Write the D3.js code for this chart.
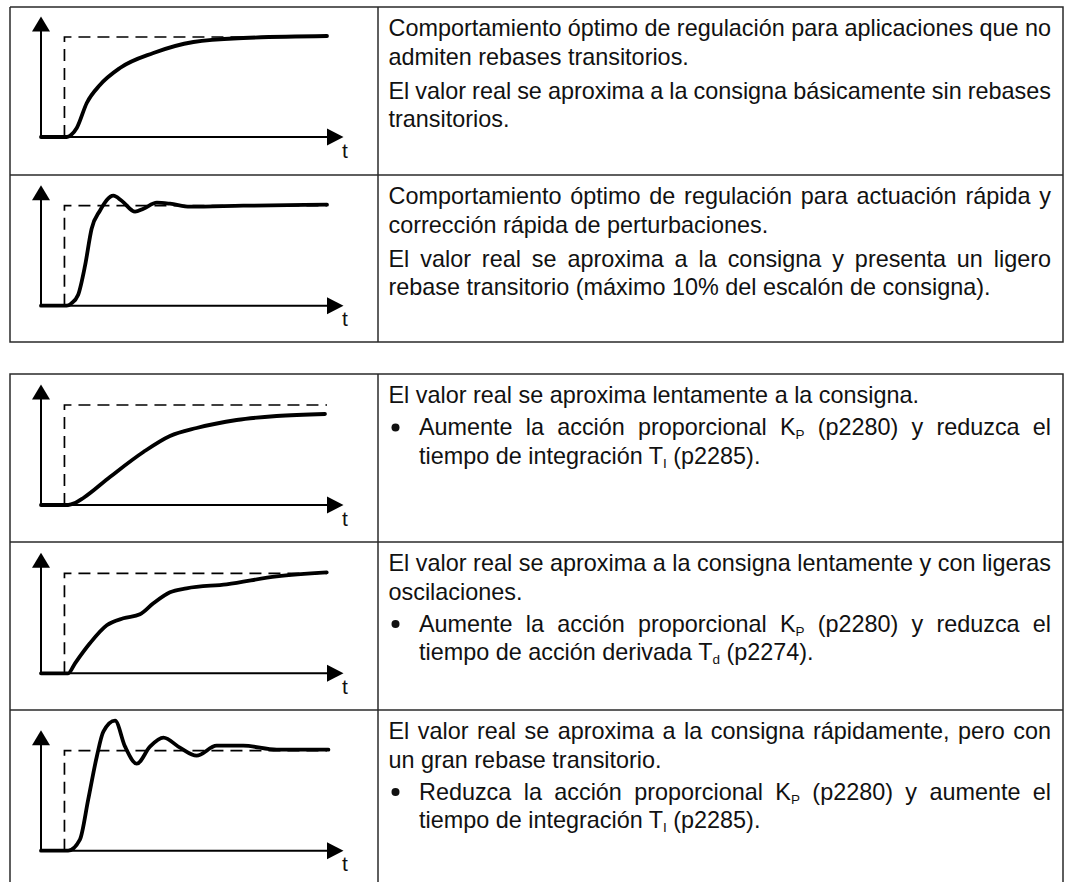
<!DOCTYPE html>
<html>
<head>
<meta charset="utf-8">
<script src="https://cdn.jsdelivr.net/npm/d3@7/dist/d3.min.js"></script>
<style>
  body { margin: 0; background: #fff; }
  svg text { font-family: "Liberation Sans", Arial, sans-serif; fill: #111; }
</style>
</head>
<body>
<svg id="chart" width="1071" height="882"></svg>
<script>
// step responses: t = time (0..10), v = actual value relative to the setpoint step (0 -> 1)
var stepTime = 0.82;

var respOptimal = [[0,0],[0.9,0],[1.05,0.02],[1.25,0.09],[1.6,0.34],[2.06,0.52],[2.76,0.69],
  [3.93,0.84],[5.33,0.95],[7.07,0.99],[10,1.01]];
var respFast = [[0,0],[0.9,0],[1.05,0.02],[1.3,0.11],[1.54,0.4],[1.77,0.77],[2.06,0.95],
  [2.53,1.1],[2.82,1.05],[3.29,0.94],[3.58,0.97],[4.05,1.03],[4.51,1.02],[5.21,0.99],
  [7.07,1.0],[10,1.01]];
var respSlow = [[0,0],[0.95,0],[1.19,0.02],[1.48,0.07],[2.41,0.28],[3.58,0.53],[4.51,0.69],
  [5.44,0.77],[6.84,0.85],[8.24,0.89],[9.93,0.91]];
var respWavy = [[0,0],[0.95,0],[1.19,0.1],[1.71,0.3],[2.3,0.48],[2.88,0.55],[3.46,0.59],
  [3.93,0.7],[4.51,0.81],[5.09,0.85],[6.49,0.89],[8.24,0.97],[9.99,1.01]];
var respOvershoot = [[0,0],[0.95,0],[1.36,0.11],[1.65,0.51],[1.95,0.94],[2.18,1.19],[2.59,1.3],
  [2.94,1.04],[3.35,0.87],[3.81,1.04],[4.28,1.13],[4.86,1.03],[5.44,0.95],[6.14,1.05],
  [7.07,1.05],[8.24,1.01],[10.05,1.01]];

// cell texts; "_{x}" marks a subscript
var textOptimal = [
  {bullet: false, lines: ["Comportamiento óptimo de regulación para aplicaciones que no", "admiten rebases transitorios."]},
  {bullet: false, lines: ["El valor real se aproxima a la consigna básicamente sin rebases", "transitorios."]}
];
var textFast = [
  {bullet: false, lines: ["Comportamiento óptimo de regulación para actuación rápida y", "corrección rápida de perturbaciones."]},
  {bullet: false, lines: ["El valor real se aproxima a la consigna y presenta un ligero", "rebase transitorio (máximo 10% del escalón de consigna)."]}
];
var textSlow = [
  {bullet: false, lines: ["El valor real se aproxima lentamente a la consigna."]},
  {bullet: true, lines: ["Aumente la acción proporcional K_{P} (p2280) y reduzca el", "tiempo de integración T_{I} (p2285)."]}
];
var textWavy = [
  {bullet: false, lines: ["El valor real se aproxima a la consigna lentamente y con ligeras", "oscilaciones."]},
  {bullet: true, lines: ["Aumente la acción proporcional K_{P} (p2280) y reduzca el", "tiempo de acción derivada T_{d} (p2274)."]}
];
var textOvershoot = [
  {bullet: false, lines: ["El valor real se aproxima a la consigna rápidamente, pero con", "un gran rebase transitorio."]},
  {bullet: true, lines: ["Reduzca la acción proporcional K_{P} (p2280) y aumente el", "tiempo de integración T_{I} (p2285)."]}
];

// layout
var left = 10, right = 1063, divX = 378;
var textRight = 1051;
var tables = [
  {top: 7, rows: [{h: 168, resp: respOptimal, text: textOptimal, base: 130},
                  {h: 167, resp: respFast, text: textFast, base: 130.7}]},
  {top: 374, rows: [{h: 168, resp: respSlow, text: textSlow, base: 131},
                    {h: 168, resp: respWavy, text: textWavy, base: 131.3},
                    {h: 200, resp: respOvershoot, text: textOvershoot, base: 140.7, open: true}]}
];

var svg = d3.select('#chart');
var borderColor = '#2a2a2a';

function addLine(g, str, x, y, justify) {
  var t = g.append('text').attr('x', x).attr('y', y).style('font-size', '23.4px');
  var parts = str.split(/(_\{[^}]*\})/);
  var shifted = false;
  parts.forEach(function(p) {
    if (!p) return;
    if (p.charAt(0) === '_') {
      t.append('tspan').attr('dy', 4).style('font-size', '13.5px').text(p.slice(2, -1));
      shifted = true;
    } else {
      t.append('tspan').attr('dy', shifted ? -4 : 0).text(p);
      shifted = false;
    }
  });
  // justified paragraph: spread the inner spaces up to the right margin
  if (justify) {
    var w = t.node().getComputedTextLength();
    var gaps = str.split(' ').length - 1;
    if (gaps > 0) {
      t.style('word-spacing', ((textRight - x - w) / gaps) + 'px');
    }
  }
}

function drawChart(g, resp, base) {
  var x = d3.scaleLinear().domain([0, 10]).range([41, 327]);
  var y = d3.scaleLinear().domain([0, 1]).range([base, base - 100]);
  var tipY = y(1) - 20.5, tipX = 343.5;

  // setpoint step (dashed)
  g.append('path')
    .attr('d', d3.line()([[x(stepTime), y(0)], [x(stepTime), y(1)], [x(10), y(1)]]))
    .attr('fill', 'none').attr('stroke', '#000').attr('stroke-width', 1.7)
    .attr('stroke-dasharray', '12,7');

  // axes
  g.append('line').attr('x1', x(0)).attr('x2', x(0)).attr('y1', y(0)).attr('y2', tipY + 12)
    .attr('stroke', '#000').attr('stroke-width', 2);
  g.append('line').attr('x1', x(0)).attr('x2', tipX - 12).attr('y1', y(0)).attr('y2', y(0))
    .attr('stroke', '#000').attr('stroke-width', 2);
  g.append('path')
    .attr('d', 'M' + x(0) + ',' + tipY + 'L' + (x(0) - 9) + ',' + (tipY + 15) + 'L' + (x(0) + 9) + ',' + (tipY + 15) + 'Z')
    .attr('fill', '#000');
  g.append('path')
    .attr('d', 'M' + tipX + ',' + y(0) + 'L' + (tipX - 16.5) + ',' + (y(0) - 8.5) + 'L' + (tipX - 16.5) + ',' + (y(0) + 8.5) + 'Z')
    .attr('fill', '#000');
  g.append('text').attr('x', tipX - 1.5).attr('y', y(0) + 20.5).style('font-size', '21px').text('t');

  // actual value
  g.append('path')
    .attr('d', d3.line().x(function(d) { return x(d[0]); }).y(function(d) { return y(d[1]); })
      .curve(d3.curveMonotoneX)(resp))
    .attr('fill', 'none').attr('stroke', '#000').attr('stroke-width', 3.8)
    .attr('stroke-linejoin', 'round').attr('stroke-linecap', 'round');
}

tables.forEach(function(tb) {
  var yTop = tb.top;
  tb.rows.forEach(function(row, i) {
    var g = svg.append('g').attr('transform', 'translate(0,' + yTop + ')');
    drawChart(g, row.resp, row.base);

    // text cell
    var yy = 29;
    row.text.forEach(function(par, k) {
      if (k > 0) yy += par.bullet ? 3.5 : 5.5;
      par.lines.forEach(function(ln, j) {
        if (par.bullet && j === 0) {
          g.append('circle').attr('cx', 395.5).attr('cy', yy - 7.5).attr('r', 4).attr('fill', '#111');
        }
        addLine(g, ln, par.bullet ? 419 : 388.5, yy, j < par.lines.length - 1);
        yy += 28.5;
      });
    });

    // cell borders
    var h = row.h;
    g.append('line').attr('x1', divX).attr('x2', divX).attr('y1', 0).attr('y2', h)
      .attr('stroke', borderColor).attr('stroke-width', 1.5);
    if (i > 0) {
      g.append('line').attr('x1', left).attr('x2', right).attr('y1', 0).attr('y2', 0)
        .attr('stroke', borderColor).attr('stroke-width', 1.5);
    }
    yTop += h;
  });
  var total = d3.sum(tb.rows, function(r) { return r.h; });
  var open = tb.rows[tb.rows.length - 1].open;
  var pts = open
    ? [[left, tb.top + total], [left, tb.top], [right, tb.top], [right, tb.top + total]]
    : [[left, tb.top], [right, tb.top], [right, tb.top + total], [left, tb.top + total], [left, tb.top]];
  svg.append('path').attr('d', d3.line()(pts)).attr('fill', 'none')
    .attr('stroke', borderColor).attr('stroke-width', 1.5);
});
</script>
</body>
</html>
